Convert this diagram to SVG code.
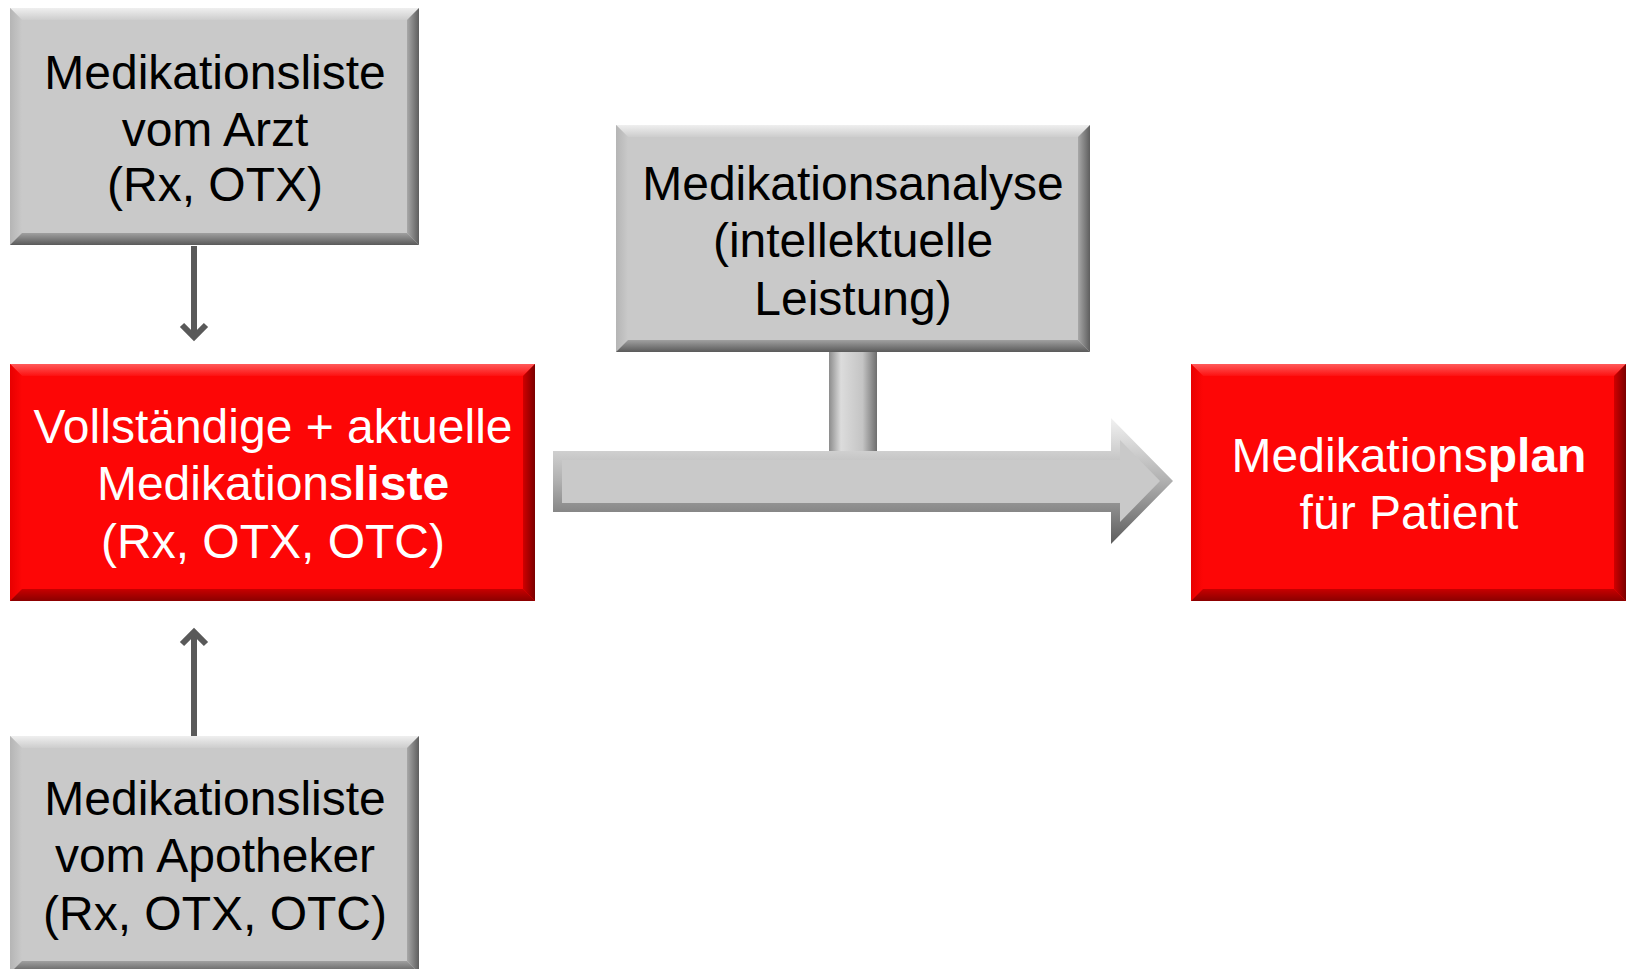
<svg xmlns="http://www.w3.org/2000/svg" width="1626" height="969" viewBox="0 0 1626 969">
  <style>
    .t { font-family: "Liberation Sans", Arial, sans-serif; font-size: 48px; text-anchor: middle; }
    .dk { fill: #000000; }
    .wt { fill: #ffffff; }
    .b { font-weight: bold; }
    .conn { stroke: #595959; stroke-width: 6; fill: none; }
    .gfill { fill: #c9c9c9; }
    .rfill { fill: #fd0606; }
  </style>
  <defs>
    <linearGradient id="gTop" x1="0" y1="0" x2="0" y2="1"><stop offset="0" stop-color="#efefef"/><stop offset="1" stop-color="#cdcdcd"/></linearGradient>
    <linearGradient id="gLeft" x1="0" y1="0" x2="1" y2="0"><stop offset="0" stop-color="#b5b5b5"/><stop offset="1" stop-color="#c9c9c9"/></linearGradient>
    <linearGradient id="gRight" x1="0" y1="0" x2="1" y2="0"><stop offset="0" stop-color="#a8a8a8"/><stop offset="1" stop-color="#5e5e5e"/></linearGradient>
    <linearGradient id="gBot" x1="0" y1="0" x2="0" y2="1"><stop offset="0" stop-color="#a0a0a0"/><stop offset="1" stop-color="#5a5a5a"/></linearGradient>
    <linearGradient id="rTop" x1="0" y1="0" x2="0" y2="1"><stop offset="0" stop-color="#ff5a5a"/><stop offset="1" stop-color="#fd1010"/></linearGradient>
    <linearGradient id="rLeft" x1="0" y1="0" x2="1" y2="0"><stop offset="0" stop-color="#e80000"/><stop offset="1" stop-color="#fd0606"/></linearGradient>
    <linearGradient id="rRight" x1="0" y1="0" x2="1" y2="0"><stop offset="0" stop-color="#d00000"/><stop offset="1" stop-color="#7a0000"/></linearGradient>
    <linearGradient id="rBot" x1="0" y1="0" x2="0" y2="1"><stop offset="0" stop-color="#c80000"/><stop offset="1" stop-color="#8a0000"/></linearGradient>
    <linearGradient id="arrOuter" x1="0" y1="0" x2="0" y2="1"><stop offset="0" stop-color="#f2f2f2"/><stop offset="0.5" stop-color="#b0b0b0"/><stop offset="1" stop-color="#5c5c5c"/></linearGradient>
    <linearGradient id="stemG" x1="0" y1="0" x2="1" y2="0"><stop offset="0" stop-color="#8c8c8c"/><stop offset="0.25" stop-color="#dcdcdc"/><stop offset="0.7" stop-color="#c4c4c4"/><stop offset="1" stop-color="#6e6e6e"/></linearGradient>
    <marker id="chev" viewBox="-16 -16 22 32" markerWidth="22" markerHeight="32" refX="0" refY="0" orient="auto" markerUnits="userSpaceOnUse">
      <path d="M-12,-12 L0,0 L-12,12" stroke="#595959" stroke-width="6" fill="none"/>
    </marker>
  </defs>

  <rect width="1626" height="969" fill="#ffffff"/>

  <g id="connectors">
    <line class="conn" x1="194" y1="246" x2="194" y2="337" marker-end="url(#chev)"/>
    <line class="conn" x1="194" y1="736" x2="194" y2="632" marker-end="url(#chev)"/>
    <rect x="829" y="345" width="48" height="110" fill="url(#stemG)"/>
    <polygon points="553,451 1111,451 1111,418 1173,481 1111,544 1111,512 553,512" fill="url(#arrOuter)"/>
    <polygon points="562,460 1120,460 1120,440 1160,481 1120,522 1120,503 562,503" fill="#c9c9c9"/>
  </g>

  <g id="node-arzt">
    <rect class="gfill" x="10" y="8" width="409" height="237"/>
    <polygon points="10,8 419,8 407,20 22,20" fill="url(#gTop)"/>
    <polygon points="10,8 22,20 22,233 10,245" fill="url(#gLeft)"/>
    <polygon points="419,8 419,245 407,233 407,20" fill="url(#gRight)"/>
    <polygon points="10,245 22,233 407,233 419,245" fill="url(#gBot)"/>
    <text class="t dk" x="215" y="89">Medikationsliste</text>
    <text class="t dk" x="215" y="146">vom Arzt</text>
    <text class="t dk" x="215" y="201">(Rx, OTX)</text>
  </g>

  <g id="node-liste">
    <rect class="rfill" x="10" y="364" width="525" height="237"/>
    <polygon points="10,364 535,364 523,376 22,376" fill="url(#rTop)"/>
    <polygon points="10,364 22,376 22,589 10,601" fill="url(#rLeft)"/>
    <polygon points="535,364 535,601 523,589 523,376" fill="url(#rRight)"/>
    <polygon points="10,601 22,589 523,589 535,601" fill="url(#rBot)"/>
    <text class="t wt" x="273" y="443">Vollständige + aktuelle</text>
    <text class="t wt" x="273" y="500">Medikations<tspan class="b">liste</tspan></text>
    <text class="t wt" x="273" y="558">(Rx, OTX, OTC)</text>
  </g>

  <g id="node-analyse">
    <rect class="gfill" x="616" y="125" width="474" height="227"/>
    <polygon points="616,125 1090,125 1078,137 628,137" fill="url(#gTop)"/>
    <polygon points="616,125 628,137 628,340 616,352" fill="url(#gLeft)"/>
    <polygon points="1090,125 1090,352 1078,340 1078,137" fill="url(#gRight)"/>
    <polygon points="616,352 628,340 1078,340 1090,352" fill="url(#gBot)"/>
    <text class="t dk" x="853" y="200">Medikationsanalyse</text>
    <text class="t dk" x="853" y="257">(intellektuelle</text>
    <text class="t dk" x="853" y="315">Leistung)</text>
  </g>

  <g id="node-plan">
    <rect class="rfill" x="1191" y="364" width="435" height="237"/>
    <polygon points="1191,364 1626,364 1614,376 1203,376" fill="url(#rTop)"/>
    <polygon points="1191,364 1203,376 1203,589 1191,601" fill="url(#rLeft)"/>
    <polygon points="1626,364 1626,601 1614,589 1614,376" fill="url(#rRight)"/>
    <polygon points="1191,601 1203,589 1614,589 1626,601" fill="url(#rBot)"/>
    <text class="t wt" x="1409" y="472">Medikations<tspan class="b">plan</tspan></text>
    <text class="t wt" x="1409" y="529">für Patient</text>
  </g>

  <g id="node-apotheker">
    <rect class="gfill" x="10" y="736" width="409" height="237"/>
    <polygon points="10,736 419,736 407,748 22,748" fill="url(#gTop)"/>
    <polygon points="10,736 22,748 22,961 10,973" fill="url(#gLeft)"/>
    <polygon points="419,736 419,973 407,961 407,748" fill="url(#gRight)"/>
    <polygon points="10,973 22,961 407,961 419,973" fill="url(#gBot)"/>
    <text class="t dk" x="215" y="815">Medikationsliste</text>
    <text class="t dk" x="215" y="872">vom Apotheker</text>
    <text class="t dk" x="215" y="930">(Rx, OTX, OTC)</text>
  </g>
</svg>
